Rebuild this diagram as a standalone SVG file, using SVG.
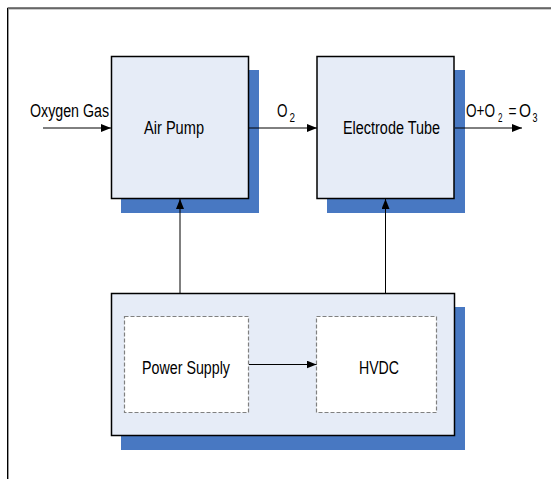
<svg xmlns="http://www.w3.org/2000/svg" width="551" height="479" viewBox="0 0 551 479">
<defs>
<style>
text{font-family:"Liberation Sans",Arial,sans-serif;font-size:18px;fill:#000}
text.sub{font-size:12px}
.box{fill:#E6ECF7;stroke:#000;stroke-width:1.5}
.shadow{fill:#4878C2}
.dash{fill:#fff;stroke:#808080;stroke-width:1.2;stroke-dasharray:4 2}
.conn{stroke:#000;stroke-width:1;fill:none;marker-end:url(#arr)}
</style>
<marker id="arr" markerUnits="userSpaceOnUse" markerWidth="10" markerHeight="8" refX="10" refY="4" orient="auto">
<path d="M0,0 L10,4 L0,8 z" fill="#000"/>
</marker>
</defs>
<rect width="551" height="479" fill="#fff"/>
<g id="frame">
<path d="M8.5,479 V9 H551" fill="none" stroke="#999" stroke-width="1"/>
<path d="M7.5,479 V8 H551" fill="none" stroke="#000" stroke-width="1"/>
</g>
<g id="air-pump">
<rect class="shadow" x="121" y="70" width="138" height="143"/>
<rect class="box" x="111.5" y="56.5" width="137" height="142"/>
<text x="144" y="134" textLength="60" lengthAdjust="spacingAndGlyphs">Air Pump</text>
</g>
<g id="electrode-tube">
<rect class="shadow" x="327" y="70" width="138" height="143"/>
<rect class="box" x="317" y="56.5" width="137" height="142"/>
<text x="343" y="134" textLength="97" lengthAdjust="spacingAndGlyphs">Electrode Tube</text>
</g>
<g id="power-unit">
<rect class="shadow" x="121" y="307" width="344" height="143"/>
<rect class="box" x="111.5" y="293.5" width="343" height="142"/>
</g>
<g id="power-supply">
<rect class="dash" x="124.5" y="316.5" width="124" height="96"/>
<text x="142" y="374" textLength="88" lengthAdjust="spacingAndGlyphs">Power Supply</text>
</g>
<g id="hvdc">
<rect class="dash" x="316.5" y="316.5" width="120" height="96"/>
<text x="359" y="374" textLength="40" lengthAdjust="spacingAndGlyphs">HVDC</text>
</g>
<g id="connectors">
<line class="conn" x1="43" y1="128" x2="111" y2="128"/>
<line class="conn" x1="249" y1="128" x2="317" y2="128"/>
<line class="conn" x1="455" y1="128" x2="522" y2="128"/>
<line class="conn" x1="180" y1="293" x2="180" y2="199"/>
<line class="conn" x1="385.5" y1="293" x2="385.5" y2="199"/>
<line class="conn" x1="249" y1="364.5" x2="316.5" y2="364.5"/>
</g>
<g id="labels">
<text x="30" y="117" textLength="79" lengthAdjust="spacingAndGlyphs">Oxygen Gas</text>
<text x="277" y="117" textLength="10.5" lengthAdjust="spacingAndGlyphs">O</text>
<text class="sub" x="289.5" y="121.5" textLength="5.5" lengthAdjust="spacingAndGlyphs">2</text>
<text x="466" y="117" textLength="29" lengthAdjust="spacingAndGlyphs">O+O</text>
<text class="sub" x="498" y="121.5" textLength="4.5" lengthAdjust="spacingAndGlyphs">2</text>
<text x="508.5" y="117" textLength="8" lengthAdjust="spacingAndGlyphs">=</text>
<text x="519" y="117" textLength="12" lengthAdjust="spacingAndGlyphs">O</text>
<text class="sub" x="532.5" y="121.5" textLength="5" lengthAdjust="spacingAndGlyphs">3</text>
</g>
</svg>
